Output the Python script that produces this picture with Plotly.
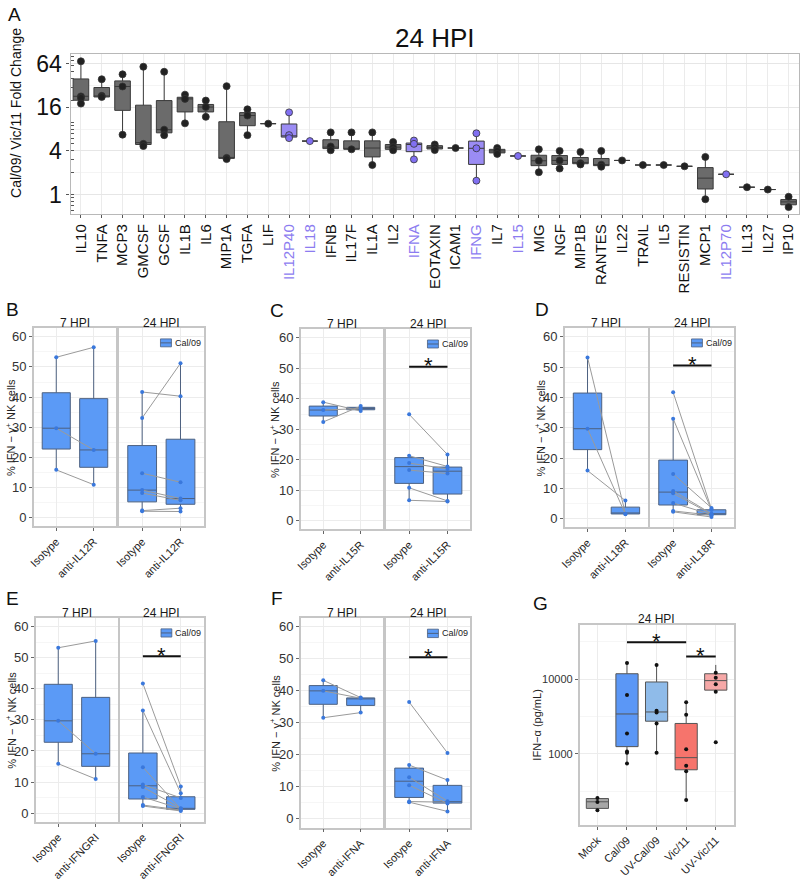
import numpy as np
import plotly.graph_objects as go

W, H = 800, 881
FONT = "Liberation Sans"

# ---------------- panel A : fold change per cytokine ----------------
cytokines = ["IL10", "TNFA", "MCP3", "GMCSF", "GCSF", "IL1B", "IL6", "MIP1A", "TGFA", "LIF",
             "IL12P40", "IL18", "IFNB", "IL17F", "IL1A", "IL2", "IFNA", "EOTAXIN", "ICAM1", "IFNG",
             "IL7", "IL15", "MIG", "NGF", "MIP1B", "RANTES", "IL22", "TRAIL", "IL5", "RESISTIN",
             "MCP1", "IL12P70", "IL13", "IL27", "IP10"]
purple_cytokines = ["IL12P40", "IL18", "IFNA", "IFNG", "IL15", "IL12P70"]
a_low = [18.0, 22.2, 6.7, 4.66, 6.6, 9.6, 11.8, 3.08, 6.6, 9.5,
         6.0, 5.46, 4.08, 4.2, 2.55, 4.08, 3.05, 4.08, 4.38, 1.55,
         3.63, 3.4, 2.03, 2.28, 2.6, 2.42, 2.95, 2.55, 2.55, 2.45,
         0.86, 1.9, 1.26, 1.17, 0.67]
a_q1 = [20.0, 22.2, 14.5, 4.9, 7.1, 13.8, 13.8, 3.15, 8.9, 9.5,
        6.2, 5.46, 4.3, 4.2, 3.3, 4.2, 3.9, 4.25, 4.38, 2.6,
        3.75, 3.4, 2.5, 2.6, 2.66, 2.5, 2.95, 2.55, 2.55, 2.45,
        1.19, 1.9, 1.26, 1.17, 0.72]
a_med = [22.7, 22.7, 31.0, 5.2, 7.85, 20.9, 16.1, 3.2, 12.3, 9.5,
         6.45, 5.46, 4.5, 4.25, 4.38, 4.5, 4.9, 4.47, 4.38, 4.34,
         4.0, 3.4, 2.92, 2.95, 2.77, 2.58, 2.95, 2.55, 2.55, 2.45,
         1.68, 1.9, 1.26, 1.17, 0.79]
a_q3 = [39.4, 30.0, 37.0, 17.1, 19.8, 22.0, 17.5, 10.1, 13.5, 9.5,
        9.4, 5.46, 5.7, 5.5, 5.5, 4.9, 5.13, 4.72, 4.38, 5.46,
        4.2, 3.4, 3.48, 3.45, 3.24, 3.14, 2.95, 2.55, 2.55, 2.45,
        2.35, 1.9, 1.26, 1.17, 0.85]
a_high = [69.0, 39.0, 45.6, 58.0, 49.5, 23.9, 19.8, 31.3, 15.0, 9.5,
          13.6, 5.46, 7.2, 7.2, 7.2, 5.3, 5.56, 4.9, 4.38, 7.0,
          4.38, 3.4, 4.2, 4.0, 3.87, 4.0, 2.95, 2.55, 2.55, 2.45,
          3.3, 1.9, 1.26, 1.17, 0.93]
a_points = [[69, 22.6, 21.5, 18.0], [39, 23, 22.2], [45.6, 31, 6.7], [58, 5.0, 4.66], [49.5, 7.85, 6.6],
            [23.9, 20.9, 9.6], [19.8, 16.1, 11.8], [31.3, 3.2, 3.08], [15, 12.3, 6.6], [9.5],
            [13.6, 6.6, 6.0], [5.46], [7.2, 4.6, 4.08], [7.2, 4.2], [7.2, 2.55],
            [5.3, 4.5, 4.08], [5.56, 5.0, 3.05], [4.9, 4.47, 4.1], [4.38], [7.0, 4.34, 1.55],
            [4.38, 4.0, 3.63], [3.4], [4.2, 2.92, 2.03], [4.0, 2.95, 2.28], [3.87, 2.7, 2.6],
            [4.0, 2.58, 2.42], [2.95], [2.55], [2.55], [2.45],
            [3.3, 0.86], [1.9], [1.26], [1.17], [0.93, 0.67]]

# ---------------- panels B-F : % IFN-g+ NK cells (paired donors) ----------------
hpi_labels = ["7 HPI", "24 HPI"]
isotype_7 = [53.2, 29.7, 15.9]
isotype_24 = [41.7, 33.0, 14.8, 9.2, 8.4, 5.2, 2.6, 2.3]

b_iso_7 = isotype_7
b_anti_7 = [56.5, 22.5, 11.0]
b_iso_24 = [41.7, 33.1, 14.8, 9.2, 8.2, 2.4, 2.2]
b_anti_24 = [40.3, 51.2, 11.8, 6.4, 5.8, 3.2, 2.1]

c_iso_7 = [38.9, 36.3, 32.4]
c_anti_7 = [36.0, 36.8, 37.6]
c_iso_24 = [34.9, 21.3, 18.9, 16.6, 10.8, 6.7]
c_anti_24 = [21.7, 17.8, 17.0, 15.5, 6.5, 6.3]

d_iso_7 = isotype_7
d_anti_7 = [1.7, 1.5, 6.0]
d_iso_24 = isotype_24
d_anti_24 = [3.2, 2.9, 3.6, 1.7, 1.5, 1.4, 1.2, 0.6]

e_iso_7 = isotype_7
e_anti_7 = [55.4, 19.1, 11.0]
e_iso_24 = isotype_24
e_anti_24 = [8.6, 6.4, 1.3, 4.9, 1.6, 1.4, 1.0, 0.7]

f_iso_7 = [43.3, 40.0, 31.6]
f_anti_7 = [37.9, 37.7, 33.2]
f_iso_24 = [36.5, 16.8, 13.0, 10.5, 5.4, 5.2]
f_anti_24 = [20.6, 12.1, 5.5, 4.8, 5.2, 2.3]

sig_level = 50.5

# ---------------- panel G : IFN-a (pg/mL) ----------------
g_groups = ["Mock", "Cal/09", "UV-Cal/09", "Vic/11", "UV-Vic/11"]
g_low = [175, 739, 1030, 240, 6760]
g_q1 = [186, 1247, 2730, 611, 7110]
g_med = [228, 3413, 3630, 888, 9530]
g_q3 = [252, 11780, 9140, 2547, 11780]
g_high = [257, 16400, 15460, 4900, 15460]
g_points = [[257, 226, 175], [16400, 6110, 1866, 1072, 1031, 739], [15460, 3776, 3560, 2547, 1030],
            [4900, 3340, 1150, 690, 586, 240], [12140, 10430, 8510, 6760, 1422]]
g_colors = ["#a6a6a6", "#5b97f6", "#8fbbe9", "#f6746c", "#f6a8a7"]
g_sig = [("Cal/09", "Vic/11", 31000), ("Vic/11", "UV-Vic/11", 20000)]

BLUE = "#5b9af6"


def xd(x0, x1):
    return [x0 / W, x1 / W]


def yd(y0, y1):
    return [1 - y1 / H, 1 - y0 / H]


def label(text, x, y, size, **kw):
    # text placed at pixel position (x, y), centred
    d = dict(text=text, x=x / W, y=1 - y / H, xref="paper", yref="paper", showarrow=False,
             xanchor="center", yanchor="middle", font=dict(size=size, color="#111111"))
    d.update(kw)
    return d


def box_stats(vals):
    v = np.sort(np.asarray(vals, float))
    q1, med, q3 = np.percentile(v, [25, 50, 75])
    iqr = q3 - q1
    lo = v[v >= q1 - 1.5 * iqr].min()
    hi = v[v <= q3 + 1.5 * iqr].max()
    return q1, med, q3, lo, hi


fig = go.Figure()
annotations = []
layout = {}

# ================= panel A =================
for i, name in enumerate(cytokines):
    purple = name in purple_cytokines
    fig.add_trace(go.Box(
        x=[name], q1=[a_q1[i]], median=[a_med[i]], q3=[a_q3[i]],
        lowerfence=[a_low[i]], upperfence=[a_high[i]],
        width=0.75, whiskerwidth=0, boxpoints=False,
        fillcolor="#9b8cf4" if purple else "#6b6b6b",
        line=dict(color="#3a3a3a", width=1),
        xaxis="x", yaxis="y", showlegend=False, hoverinfo="skip"))

for purple in (False, True):
    xs, ys = [], []
    for i, name in enumerate(cytokines):
        if (name in purple_cytokines) == purple:
            xs += [name] * len(a_points[i])
            ys += a_points[i]
    fig.add_trace(go.Scatter(
        x=xs, y=ys, mode="markers", xaxis="x", yaxis="y", showlegend=False,
        marker=dict(size=7, color="#8170f2" if purple else "#222222",
                    line=dict(color="#333333", width=0.8))))

# dummy trace on overlay axis carrying the log ticks
fig.add_trace(go.Scatter(x=[None], y=[None], xaxis="x", yaxis="y13", showlegend=False))

a_ticktext = ['<span style="color:#8c7cf0">%s</span>' % c if c in purple_cytokines else c
              for c in cytokines]
a_range = [-0.271, 1.939]
logticks = [m * 10 ** k for k in (-1, 0, 1) for m in range(1, 10)]
logticks = [v for v in logticks if a_range[0] < np.log10(v) < a_range[1]]

layout["xaxis"] = dict(
    domain=xd(65, 799), anchor="y", type="category", categoryorder="array",
    categoryarray=cytokines, tickvals=cytokines, ticktext=a_ticktext, range=[-0.5, 34.5],
    tickangle=-90, tickfont=dict(size=15, color="#111111"), ticks="outside", ticklen=3,
    tickcolor="#555555", showgrid=True, gridcolor="#ebebeb", showline=True, mirror=True,
    linecolor="#b8b8b8", linewidth=1.2, zeroline=False)
layout["yaxis"] = dict(
    domain=yd(52, 215), anchor="x", type="log", range=a_range,
    tickvals=[1, 4, 16, 64], ticktext=["1", "4", "16", "64"],
    tickfont=dict(size=23, color="#111111"), ticks="outside", ticklen=3, tickcolor="#555555",
    showgrid=True, gridcolor="#e6e6e6", showline=True, mirror=True, linecolor="#b8b8b8",
    linewidth=1.2, zeroline=False,
    minor=dict(tickvals=[2, 8, 32], showgrid=True, gridcolor="#f4f4f4", ticks=""))
layout["yaxis13"] = dict(
    overlaying="y", anchor="x", side="left", type="log", range=a_range,
    tickvals=logticks, ticks="inside", ticklen=3, tickcolor="#555555",
    showticklabels=False, showgrid=False, zeroline=False, showline=False)

annotations += [
    label("A", 9, 12, 19),
    label("24 HPI", 432, 36, 26),
    label("Cal/09/ Vic/11 Fold Change", 10, 112, 14, textangle=-90),
]

# ================= panels B-F =================
panels = [
    ("B", "anti-IL12R", [b_iso_7, b_anti_7, b_iso_24, b_anti_24], False, (28, 111, 114, 199, 331, 533), 7),
    ("C", "anti-IL15R", [c_iso_7, c_anti_7, c_iso_24, c_anti_24], True, (297, 380, 383, 468, 332, 536), 273),
    ("D", "anti-IL18R", [d_iso_7, d_anti_7, d_iso_24, d_anti_24], True, (563, 647, 649, 734, 331, 534), 540),
    ("E", "anti-IFNGRI", [e_iso_7, e_anti_7, e_iso_24, e_anti_24], True, (30, 113, 115, 199, 626, 834), 7),
    ("F", "anti-IFNA", [f_iso_7, f_anti_7, f_iso_24, f_anti_24], True, (297, 380, 383, 468, 626, 840), 273),
]
y_lin_range = [-2.8, 62.9]
axis_n = 2
for letter, anti, series, sig, (x0, x1, x2, x3, ytop, ybot), lx in panels:
    cats = ["Isotype", anti]
    for k, (iso, ant) in enumerate([(series[0], series[1]), (series[2], series[3])]):
        n = axis_n + k
        xa, ya = "x%d" % n, "y%d" % n
        for cat, vals in zip(cats, (iso, ant)):
            q1, med, q3, lo, hi = box_stats(vals)
            fig.add_trace(go.Box(
                x=[cat], q1=[q1], median=[med], q3=[q3], lowerfence=[lo], upperfence=[hi],
                width=0.75, whiskerwidth=0, boxpoints=False, fillcolor=BLUE,
                line=dict(color="#4d6180", width=1), xaxis=xa, yaxis=ya,
                showlegend=False, hoverinfo="skip"))
        lx_, ly_ = [], []
        for a, b in zip(iso, ant):
            lx_ += [cats[0], cats[1], None]
            ly_ += [a, b, None]
        fig.add_trace(go.Scatter(x=lx_, y=ly_, mode="lines", line=dict(color="#9a9a9a", width=1),
                                 xaxis=xa, yaxis=ya, showlegend=False, hoverinfo="skip"))
        fig.add_trace(go.Scatter(x=[cats[0]] * len(iso) + [cats[1]] * len(ant), y=iso + ant,
                                 mode="markers", marker=dict(size=4, color="#3a78dc"),
                                 xaxis=xa, yaxis=ya, showlegend=False))
        px0, px1 = (x0, x1) if k == 0 else (x2, x3)
        layout["xaxis%d" % n] = dict(
            domain=xd(px0, px1), anchor=ya, type="category", categoryorder="array", categoryarray=cats,
            range=[-0.6, 1.6], tickangle=-45, tickfont=dict(size=11, color="#222222"),
            ticks="outside", ticklen=3, tickcolor="#666666", showgrid=True, gridcolor="#ececec",
            showline=True, mirror=True, linecolor="#c6c6c6", linewidth=1.5, zeroline=False)
        layout["yaxis%d" % n] = dict(
            domain=yd(ytop, ybot), anchor=xa, range=y_lin_range, tickvals=list(range(0, 61, 10)),
            showticklabels=(k == 0), ticks="outside" if k == 0 else "", ticklen=3,
            tickcolor="#666666", tickfont=dict(size=13, color="#333333"), showgrid=True,
            gridcolor="#ececec", showline=True, mirror=True, linecolor="#c6c6c6", linewidth=1.5,
            zeroline=False,
            minor=dict(tickvals=list(range(5, 60, 10)), showgrid=True, gridcolor="#f6f6f6", ticks=""))
        annotations.append(label(hpi_labels[k], (px0 + px1) / 2, ytop - 5, 12,
                                 font=dict(size=12, color="#1a1a1a")))
        if k == 1:
            # legend key
            fig.add_shape(type="rect", xref="%s domain" % xa, yref="%s domain" % ya,
                          x0=0.49, x1=0.62, y0=0.905, y1=0.945, fillcolor=BLUE,
                          line=dict(color="#4d6180", width=0.8))
            fig.add_shape(type="line", xref="%s domain" % xa, yref="%s domain" % ya,
                          x0=0.49, x1=0.62, y0=0.925, y1=0.925, line=dict(color="#4d6180", width=1))
            annotations.append(dict(text="Cal/09", x=0.635, y=0.925, xref="%s domain" % xa,
                                    yref="%s domain" % ya, xanchor="left", yanchor="middle",
                                    showarrow=False, font=dict(size=9, color="#222222")))
            if sig:
                fig.add_trace(go.Scatter(x=cats, y=[sig_level, sig_level], mode="lines",
                                         line=dict(color="#111111", width=2), xaxis=xa, yaxis=ya,
                                         showlegend=False, hoverinfo="skip"))
                annotations.append(dict(text="*", x=0.5, y=sig_level + 0.3, xref=xa, yref=ya,
                                        xanchor="center", yanchor="middle", showarrow=False,
                                        font=dict(size=22, color="#111111")))
    axis_n += 2
    annotations.append(label(letter, lx, ytop - 19, 19))
    annotations.append(label("% IFN − γ<sup>+</sup> NK cells", lx - 2, (ytop + ybot) / 2, 11,
                             textangle=-90, font=dict(size=11, color="#222222")))

# ================= panel G =================
for i, grp in enumerate(g_groups):
    fig.add_trace(go.Box(
        x=[grp], q1=[g_q1[i]], median=[g_med[i]], q3=[g_q3[i]],
        lowerfence=[g_low[i]], upperfence=[g_high[i]], width=0.75, whiskerwidth=0,
        boxpoints=False, fillcolor=g_colors[i], line=dict(color="#555555", width=1),
        xaxis="x12", yaxis="y12", showlegend=False, hoverinfo="skip"))
gx, gy = [], []
for i, grp in enumerate(g_groups):
    gx += [grp] * len(g_points[i])
    gy += g_points[i]
fig.add_trace(go.Scatter(x=gx, y=gy, mode="markers", marker=dict(size=4, color="#111111"),
                         xaxis="x12", yaxis="y12", showlegend=False))
for a, b, lvl in g_sig:
    fig.add_trace(go.Scatter(x=[a, b], y=[lvl, lvl], mode="lines", line=dict(color="#111111", width=2),
                             xaxis="x12", yaxis="y12", showlegend=False, hoverinfo="skip"))
    mid = (g_groups.index(a) + g_groups.index(b)) / 2
    annotations.append(dict(text="*", x=mid, y=np.log10(lvl) + 0.01, xref="x12", yref="y12",
                            xanchor="center", yanchor="middle", showarrow=False,
                            font=dict(size=22, color="#111111")))

layout["xaxis12"] = dict(
    domain=xd(578, 733), anchor="y12", type="category", categoryorder="array",
    categoryarray=g_groups, range=[-0.6, 4.6], tickangle=-45,
    tickfont=dict(size=11, color="#222222"), ticks="outside", ticklen=3, tickcolor="#666666",
    showgrid=True, gridcolor="#ececec", showline=True, mirror=True, linecolor="#c6c6c6",
    linewidth=1.5, zeroline=False)
layout["yaxis12"] = dict(
    domain=yd(633, 837), anchor="x12", type="log", range=[2.05, 4.73],
    tickvals=[1000, 10000], ticktext=["1000", "10000"], tickfont=dict(size=11, color="#333333"),
    ticks="outside", ticklen=3, tickcolor="#666666", showgrid=True, gridcolor="#ececec",
    showline=True, mirror=True, linecolor="#c6c6c6", linewidth=1.5, zeroline=False,
    minor=dict(tickvals=[316, 3162, 31623], showgrid=True, gridcolor="#f6f6f6", ticks=""))
annotations += [
    label("G", 539, 612, 19),
    label("24 HPI", (578 + 733) / 2, 627, 12, font=dict(size=12, color="#1a1a1a")),
    label("IFN−α (pg/mL)", 535, 735, 11, textangle=-90, font=dict(size=11, color="#222222")),
]

fig.update_layout(
    width=W, height=H, margin=dict(l=0, r=0, t=0, b=0),
    paper_bgcolor="white", plot_bgcolor="white",
    font=dict(family=FONT, color="#111111"),
    showlegend=False, hovermode=False, annotations=annotations, **layout)

# page body has a default 8px margin; drop it so the figure sits at the window corner
fig.write_html("out.html", config={"displayModeBar": False},
               post_script="document.body.style.margin = '0';")
